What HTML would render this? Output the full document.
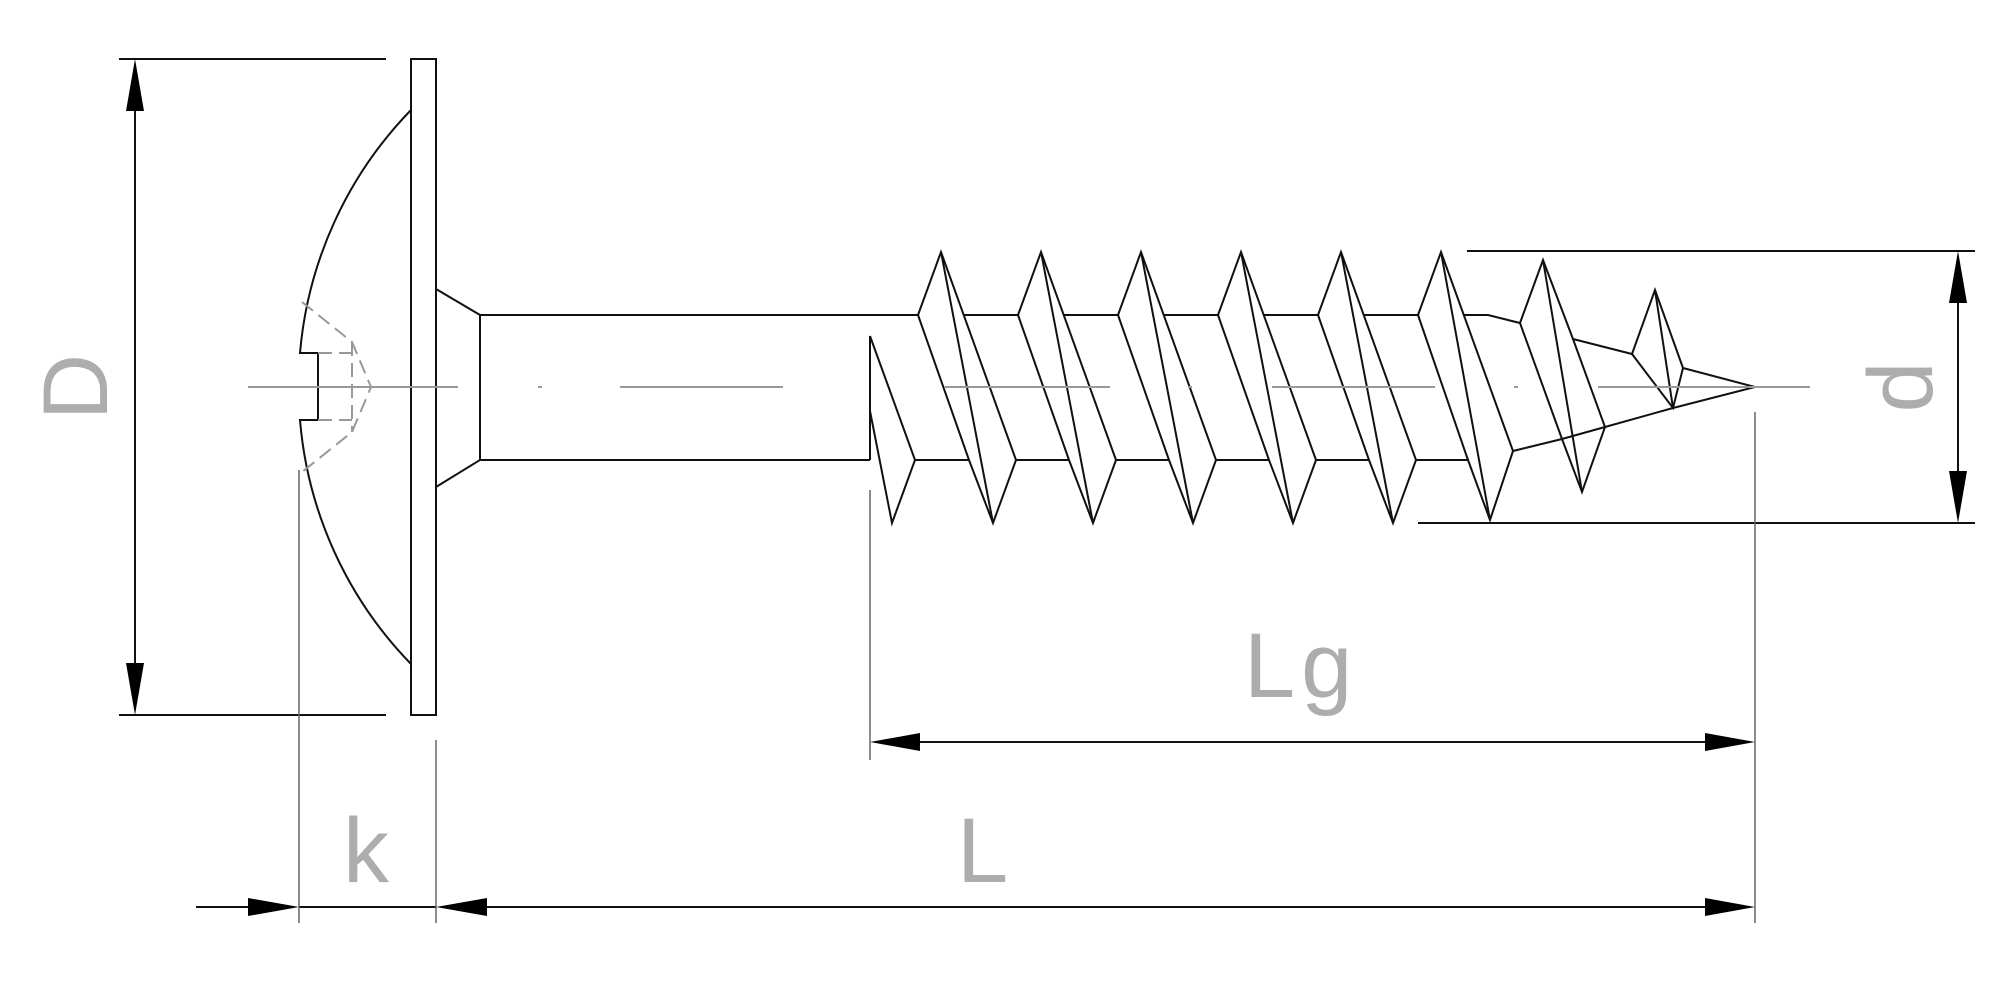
<!DOCTYPE html>
<html><head><meta charset="utf-8"><style>
html,body{margin:0;padding:0;background:#fff;}
svg{display:block;}
text{font-family:"Liberation Sans",sans-serif;fill:#adadad;}
</style></head><body>
<svg width="2000" height="992" viewBox="0 0 2000 992" xmlns="http://www.w3.org/2000/svg">
<g fill="none" stroke="#111" stroke-width="2" stroke-linejoin="miter">
<rect x="411" y="59" width="25" height="656"/>
<path d="M411,110 A397,397 0 0 0 300,353 L318,353 L318,420 L300,420 A397,397 0 0 0 411,664"/>
<path d="M436,289 L480,315 L480,460 L436,487"/>
<line x1="480" y1="315" x2="918" y2="315"/>
<line x1="480" y1="460" x2="870" y2="460"/>
<line x1="870" y1="336" x2="870" y2="460"/>
<path d="M870,336 L915,460 L892,523 L870,411"/>
<line x1="915" y1="460" x2="969" y2="460"/>
<g id="th">
<path d="M918,315 L941,252 L1016,460"/>
<line x1="941" y1="252" x2="993" y2="523"/>
<path d="M918,315 L969,460 L993,523 L1016,460"/>
<line x1="964" y1="315" x2="1018" y2="315"/>
<line x1="1016" y1="460" x2="1069" y2="460"/>
</g>
<use href="#th" x="100"/>
<use href="#th" x="200"/>
<use href="#th" x="300"/>
<use href="#th" x="400"/>
<path d="M1418,315 L1441,252 L1513,451"/>
<line x1="1441" y1="252" x2="1490" y2="520"/>
<path d="M1418,315 L1468,460 L1490,520 L1513,451"/>
<path d="M1464,315 L1488,315 L1520,323 L1543,260 L1573,339 L1632,354 L1655,290 L1683,368 L1755,387 L1673,408 L1605,427 L1562,439 L1513,451"/>
<path d="M1520,323 L1562,439 L1582,492 L1605,427 L1573,339"/>
<line x1="1543" y1="260" x2="1582" y2="492"/>
<path d="M1632,354 L1673,408 L1683,368"/>
<line x1="1655" y1="290" x2="1673" y2="408"/>
<line x1="119" y1="59" x2="386" y2="59"/>
<line x1="119" y1="715" x2="386" y2="715"/>
<line x1="135" y1="100" x2="135" y2="675"/>
<line x1="1467" y1="251" x2="1975" y2="251"/>
<line x1="1418" y1="523" x2="1975" y2="523"/>
<line x1="1958" y1="290" x2="1958" y2="485"/>
<line x1="910" y1="742" x2="1710" y2="742"/>
<line x1="196" y1="907" x2="260" y2="907"/>
<line x1="299" y1="907" x2="436" y2="907"/>
<line x1="475" y1="907" x2="1710" y2="907"/>
</g>
<g fill="none" stroke="#666" stroke-width="1.5">
<line x1="299" y1="470" x2="299" y2="923"/>
<line x1="436" y1="740" x2="436" y2="923"/>
<line x1="870" y1="490" x2="870" y2="760"/>
<line x1="1755" y1="412" x2="1755" y2="923"/>
</g>
<g fill="#000">
<polygon points="135,59 126,111 144,111"/>
<polygon points="135,715 126,663 144,663"/>
<polygon points="1958,251 1949,303 1967,303"/>
<polygon points="1958,523 1949,471 1967,471"/>
<polygon points="870,742 920,733 920,751"/>
<polygon points="1755,742 1705,733 1705,751"/>
<polygon points="299,907 248,898 248,916"/>
<polygon points="436,907 487,898 487,916"/>
<polygon points="1755,907 1705,898 1705,916"/>
</g>
<g fill="none" stroke="#999" stroke-width="2" stroke-dasharray="14 7">
<path d="M302,302 L352,342 L371,387 L352,432 L302,472"/>
<line x1="352" y1="342" x2="352" y2="432"/>
<line x1="318" y1="353" x2="352" y2="353"/>
<line x1="318" y1="420" x2="352" y2="420"/>
</g>
<g stroke="#999" stroke-width="2">
<line x1="248" y1="387" x2="458" y2="387"/>
<line x1="538" y1="387" x2="542" y2="387"/>
<line x1="620" y1="387" x2="783" y2="387"/>
<line x1="945" y1="387" x2="1110" y2="387"/>
<line x1="1188" y1="387" x2="1192" y2="387"/>
<line x1="1272" y1="387" x2="1435" y2="387"/>
<line x1="1514" y1="387" x2="1518" y2="387"/>
<line x1="1598" y1="387" x2="1810" y2="387"/>
</g>
<text x="1244" y="697" font-size="92" letter-spacing="6">Lg</text>
<text x="343" y="882" font-size="92">k</text>
<text x="957" y="882" font-size="92">L</text>
<text transform="translate(107,387) rotate(-90)" text-anchor="middle" font-size="92">D</text>
<text transform="translate(1932,387) rotate(-90)" text-anchor="middle" font-size="92">d</text>
</svg>
</body></html>
